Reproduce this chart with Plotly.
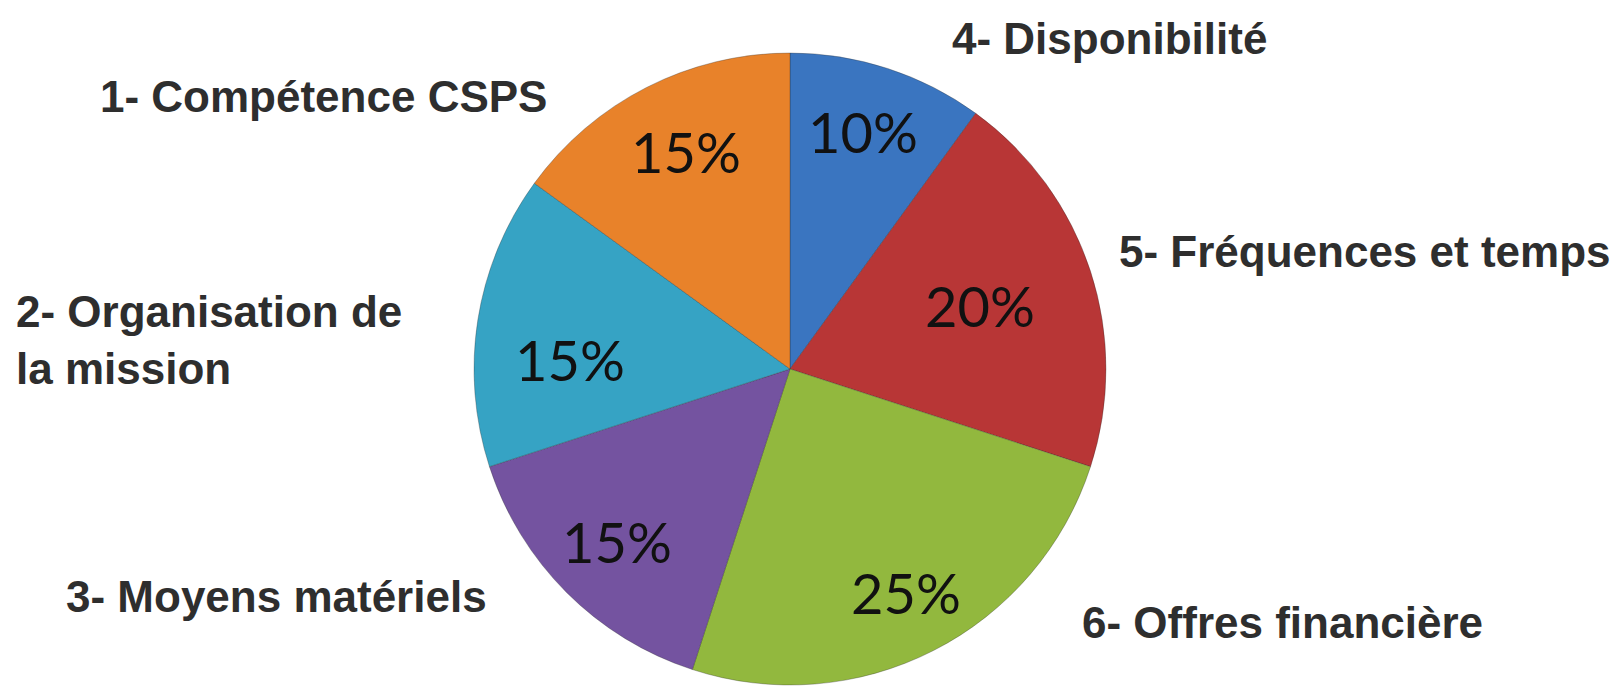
import math
import plotly.graph_objects as go

# Data (clockwise from 12 o'clock)
categories = ["4- Disponibilité", "5- Fréquences et temps", "6- Offres financière",
              "3- Moyens matériels", "2- Organisation de<br>la mission", "1- Compétence CSPS"]
values = [10, 20, 25, 15, 15, 15]
colors = ["#3a75c0", "#b83636", "#92b83e", "#7453a0", "#36a3c4", "#e8822a"]

W, H = 1614, 689
cx, cy, R = 790, 369, 316  # pie centre / radius in px

dom_x = [(cx - R) / W, (cx + R) / W]
dom_y = [(H - cy - R) / H, (H - cy + R) / H]

fig = go.Figure(go.Pie(
    labels=categories, values=values, sort=False, direction="clockwise", rotation=0,
    marker=dict(colors=colors, line=dict(color="rgba(40,40,40,0.3)", width=1)),
    textinfo="none", hoverinfo="label+percent", showlegend=False,
    domain=dict(x=dom_x, y=dom_y),
))

# percentage labels placed along each slice's mid-angle
radial = [0.78, 0.63, 0.80, 0.78, 0.70, 0.76]
ang_nudge = [-1, 0, 0, 0, -7, 1]
total = sum(values)
ann = []
acc = 0
for i, v in enumerate(values):
    mid = (acc + v / 2) / total * 360 + ang_nudge[i]
    acc += v
    a = math.radians(mid)
    px = cx + radial[i] * R * math.sin(a) + 1
    py = cy - radial[i] * R * math.cos(a) - 2
    ann.append(dict(x=px / W, y=1 - py / H, xref="paper", yref="paper",
                    text=f"{round(v / total * 100)}%", showarrow=False,
                    font=dict(family="Lato", size=56, color="#111111"),
                    xanchor="center", yanchor="middle"))

# category labels (layout positions in px)
label_pos = [(1109, 38, "center"), (1613, 251, "right"), (1282, 622, "center"),
             (276, 596, "center"), (14, 340, "left"), (323, 97, "center")]
for (lx, ly, anc), txt in zip(label_pos, categories):
    ann.append(dict(x=lx / W, y=1 - ly / H, xref="paper", yref="paper",
                    text="<b>" + txt.replace("<br>", "</b><br><b>") + "</b>",
                    showarrow=False, align="left",
                    font=dict(family="Liberation Sans, Arial", size=44, color="#2e2e2e"),
                    xanchor=anc, yanchor="middle"))

fig.update_layout(
    width=W, height=H, margin=dict(l=0, r=0, t=0, b=0),
    paper_bgcolor="white", plot_bgcolor="white", annotations=ann,
)

fig.write_html("out.html", config={"displayModeBar": False},
               post_script="document.body.style.margin='0';")
